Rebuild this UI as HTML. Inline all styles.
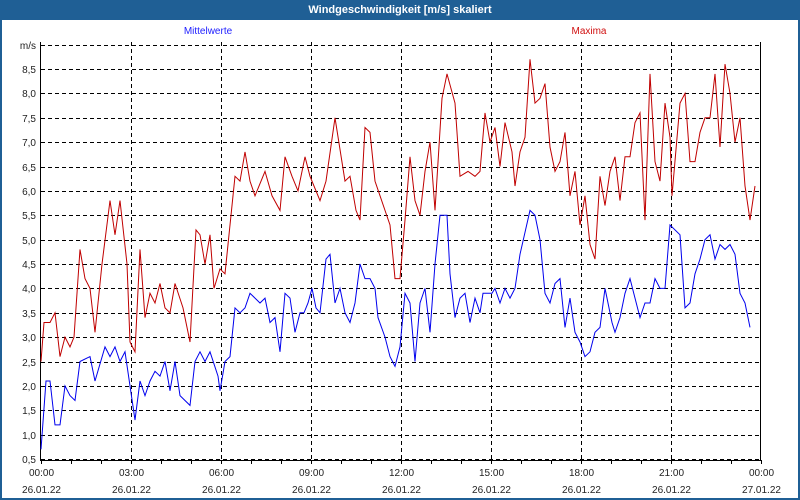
<!DOCTYPE html>
<html><head><meta charset="utf-8"><style>
body{margin:0;background:#fff;font-family:"Liberation Sans",sans-serif}
#wrap{position:relative;width:800px;height:500px;box-sizing:border-box;border:2px solid #1f5f95;border-top:none;background:#fff}
#title{position:absolute;left:-2px;top:0;width:800px;height:20px;background:#1f5f95;color:#fff;font-weight:bold;font-size:11px;text-align:center;line-height:20px}
svg{position:absolute;left:-2px;top:0}
</style></head><body>
<div id="wrap">
<div id="title">Windgeschwindigkeit [m/s] skaliert</div>
<svg id="chart" width="800" height="500"></svg>
</div>
<script>
const yTicks=[0.5,1.0,1.5,2.0,2.5,3.0,3.5,4.0,4.5,5.0,5.5,6.0,6.5,7.0,7.5,8.0,8.5];
const xTickLabels=["00:00","03:00","06:00","09:00","12:00","15:00","18:00","21:00","00:00"];
const xDateLabels=["26.01.22","26.01.22","26.01.22","26.01.22","26.01.22","26.01.22","26.01.22","26.01.22","27.01.22"];
const maxX=[0,6,18,28,38,48,58,66,78,88,98,108,122,138,148,158,172,178,188,198,208,218,228,238,248,258,268,284,298,310,318,328,338,346,358,368,388,398,408,418,428,448,462,478,488,502,514,528,538,558,570,588,608,618,630,638,648,658,668,688,698,708,718,728,738,748,758,768,778,788,802,812,828,838,854,868,878,888,898,908,918,928,942,948,958,968,978,988,998,1008,1018,1028,1038,1048,1058,1068,1078,1088,1098,1108,1118,1128,1138,1148,1158,1168,1178,1188,1198,1208,1218,1228,1238,1248,1258,1262,1278,1288,1298,1308,1318,1328,1338,1348,1358,1368,1378,1388,1398,1408,1418,1428];
const maxY=[2.5,3.3,3.3,3.5,2.6,3.0,2.8,3.0,4.8,4.2,4.0,3.1,4.5,5.8,5.1,5.8,4.5,2.9,2.7,4.8,3.4,3.9,3.7,4.1,3.6,3.5,4.1,3.6,2.9,5.2,5.1,4.5,5.1,4.0,4.4,4.3,6.3,6.2,6.8,6.2,5.9,6.4,5.9,5.6,6.7,6.3,6.0,6.7,6.3,5.8,6.2,7.5,6.2,6.3,5.6,5.4,7.3,7.2,6.2,5.6,5.3,4.2,4.2,5.4,6.7,5.8,5.5,6.4,7.0,5.6,7.9,8.4,7.8,6.3,6.4,6.3,6.4,7.6,7.0,7.3,6.5,7.4,6.8,6.1,6.8,7.1,8.7,7.8,7.9,8.2,6.9,6.4,6.6,7.2,5.9,6.4,5.3,5.9,4.9,4.6,6.3,5.7,6.4,6.7,5.8,6.7,6.7,7.4,7.6,5.4,8.4,6.6,6.2,7.8,7.1,5.9,7.8,8.0,6.6,6.6,7.2,7.5,7.5,8.4,6.9,8.6,8.0,7.0,7.5,6.1,5.4,6.1];
const meanX=[0,10,18,28,38,48,58,68,78,98,108,128,138,148,158,168,178,188,198,208,218,228,238,248,258,268,278,298,308,318,328,338,354,358,368,378,388,398,408,418,428,438,448,458,468,478,488,498,508,518,526,534,542,550,558,570,578,588,598,608,618,628,638,648,658,668,674,688,698,708,718,728,738,748,758,768,778,788,798,812,818,828,838,848,858,868,878,884,894,902,908,918,928,938,948,958,978,988,998,1008,1018,1028,1038,1048,1058,1068,1078,1088,1098,1108,1118,1128,1142,1148,1158,1168,1178,1188,1198,1208,1218,1228,1238,1248,1258,1278,1288,1298,1308,1318,1328,1338,1348,1358,1368,1378,1388,1398,1408,1418,1428];
const meanY=[0.7,2.1,2.1,1.2,1.2,2.0,1.8,1.7,2.5,2.6,2.1,2.8,2.6,2.8,2.5,2.7,2.0,1.3,2.1,1.8,2.1,2.3,2.2,2.5,1.9,2.5,1.8,1.6,2.5,2.7,2.5,2.7,2.2,1.9,2.5,2.6,3.6,3.5,3.6,3.9,3.8,3.7,3.8,3.3,3.4,2.7,3.9,3.8,3.1,3.5,3.5,3.7,4.0,3.6,3.5,4.6,4.7,3.7,4.0,3.5,3.3,3.7,4.5,4.2,4.2,4.0,3.4,3.0,2.6,2.4,2.8,3.9,3.7,2.5,3.7,4.0,3.1,4.5,5.5,5.5,4.3,3.4,3.8,3.9,3.3,3.8,3.5,3.9,3.9,3.9,4.0,3.7,4.0,3.8,4.0,4.7,5.6,5.5,5.0,3.9,3.7,4.1,4.2,3.2,3.8,3.1,2.9,2.6,2.7,3.1,3.2,4.0,3.3,3.1,3.4,3.9,4.2,3.8,3.4,3.7,3.7,4.2,4.0,4.0,5.3,5.1,3.6,3.7,4.3,4.6,5.0,5.1,4.6,4.9,4.8,4.9,4.7,3.9,3.7,3.2];
const NS="http://www.w3.org/2000/svg";
const svg=document.getElementById('chart');
const X0=41,X1=761,Y0=459,Y1=69;
function sx(m){return X0+(m/1440)*(X1-X0);}
function sy(v){return Y0-(v-0.5)/(8.5-0.5)*(Y0-Y1);}
function mk(tag,attrs){const e=document.createElementNS(NS,tag);for(const k in attrs)e.setAttribute(k,attrs[k]);svg.appendChild(e);return e;}
// horizontal grid
yTicks.concat([9.0]).forEach(v=>{
  const g=mk('line',{x1:X0,x2:760,y1:Math.round(sy(v))+0.5,y2:Math.round(sy(v))+0.5,stroke:'#000','stroke-dasharray':'4,3','stroke-width':1});
  
  
});
yTicks.forEach(v=>{
  const t=mk('text',{x:36,y:Math.round(sy(v))+4,'text-anchor':'end','font-size':10,fill:'#222'});
  t.textContent=v.toFixed(1).replace('.',',');
  
  
});
const u=mk('text',{x:36,y:49,'text-anchor':'end','font-size':10,fill:'#222'});u.textContent='m/s';


// vertical grid + labels
xTickLabels.forEach((lab,i)=>{
  const x=Math.round(sx(i*180))+0.5;
  if(i>0&&i<8){const g=mk('line',{x1:x,x2:x,y1:42,y2:460,stroke:'#000','stroke-dasharray':'4,3'});
  
  }
  const t=mk('text',{x:x,y:476,'text-anchor':'middle','font-size':10,fill:'#222'});t.textContent=lab;
  
  
  const d=mk('text',{x:x,y:493,'text-anchor':'middle','font-size':10,fill:'#222'});d.textContent=xDateLabels[i];
  
  
});
for(let h=0;h<=24;h++){const x=Math.round(sx(h*60))+0.5;const tk=mk('line',{x1:x,x2:x,y1:460,y2:464,stroke:'#000'});
  
  }
// frame
const ax=mk('path',{d:'M40.5,42 V460.5 H760.5 V42',fill:'none',stroke:'#000','stroke-width':1});


// series
function line(xs,ys,color,name){
  const p=mk('polyline',{points:xs.map((m,i)=>sx(m).toFixed(1)+','+sy(ys[i]).toFixed(1)).join(' '),fill:'none',stroke:color,'stroke-width':1});
  
  
}
line(maxX,maxY,'#c00000','maxima-line');
line(meanX,meanY,'#0000ee','mittelwerte-line');
const l1=mk('text',{x:208,y:34,'text-anchor':'middle','font-size':10,fill:'#2020ff'});l1.textContent='Mittelwerte';


const l2=mk('text',{x:589,y:34,'text-anchor':'middle','font-size':10,fill:'#d01010'});l2.textContent='Maxima';


</script>
</body></html>
